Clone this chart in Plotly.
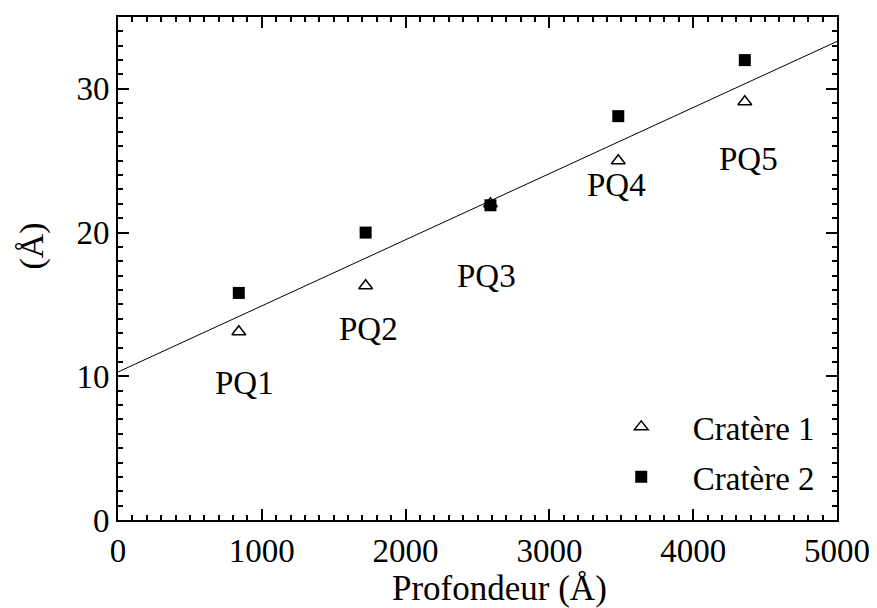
import plotly.graph_objects as go

# Data
labels = ["PQ1", "PQ2", "PQ3", "PQ4", "PQ5"]
depth = [840, 1722, 2590, 3479, 4359]
crater1 = [13.1, 16.3, 22.0, 25.0, 29.1]
crater2 = [15.8, 20.0, 21.9, 28.1, 32.0]
label_x = [880, 1743, 2563, 3465, 4382]
label_y = [9.5, 13.3, 17.0, 23.3, 25.1]
fit_x = [0, 5000]
fit_y = [10.3, 33.3]

FONT = "Liberation Serif"
FS = 33

fig = go.Figure()
fig.add_trace(go.Scatter(x=fit_x, y=fit_y, mode="lines",
                         line=dict(color="black", width=1), showlegend=False,
                         hoverinfo="skip"))
fig.add_trace(go.Scatter(x=depth, y=crater1, mode="markers", name="Cratère 1",
                         legendgroup="a",
                         marker=dict(symbol="triangle-up-open", size=12, color="black",
                                     line=dict(width=1.5, color="black"))))
fig.add_trace(go.Scatter(x=depth, y=crater2, mode="markers", name="Cratère 2",
                         legendgroup="b",
                         marker=dict(symbol="square", size=12, color="black")))

for lx, ly, t in zip(label_x, label_y, labels):
    fig.add_annotation(x=lx, y=ly, text=t, showarrow=False,
                       font=dict(size=FS, color="black", family=FONT))

# axis titles as paper annotations (placed as in the reference)
fig.add_annotation(x=0.5306, y=-0.137, xref="paper", yref="paper",
                   text="Profondeur (Å)", showarrow=False,
                   xanchor="center", yanchor="middle",
                   font=dict(size=FS + 2, color="black", family=FONT))
fig.add_annotation(x=-0.119, y=0.5446, xref="paper", yref="paper",
                   text="(Å)", showarrow=False, textangle=-90,
                   xanchor="center", yanchor="middle",
                   font=dict(size=FS + 1, color="black", family=FONT))

axis_common = dict(showgrid=False, zeroline=False, showline=True, linecolor="black",
                   linewidth=2, mirror="ticks", ticks="inside", ticklen=11,
                   tickwidth=2, tickcolor="black", ticklabeloverflow="allow",
                   tickfont=dict(size=FS, color="black", family=FONT))

fig.update_xaxes(range=[0, 5000], dtick=1000, tick0=0,
                 minor=dict(dtick=100, ticks="inside", ticklen=5, tickwidth=2,
                            tickcolor="black"),
                 **axis_common)
fig.update_yaxes(range=[0, 35], dtick=10, tick0=0,
                 minor=dict(dtick=1, ticks="inside", ticklen=5, tickwidth=2,
                            tickcolor="black"),
                 **axis_common)

fig.update_layout(
    width=869, height=600,
    margin=dict(l=110, r=39, t=7, b=88),
    plot_bgcolor="white", paper_bgcolor="white",
    font=dict(family=FONT, size=FS, color="black"),
    legend=dict(x=0.976, y=0.03, xanchor="right", yanchor="bottom",
                bgcolor="rgba(0,0,0,0)", itemwidth=93, tracegroupgap=4,
                font=dict(size=FS, family=FONT, color="black")),
)

fig.write_html("out.html")
